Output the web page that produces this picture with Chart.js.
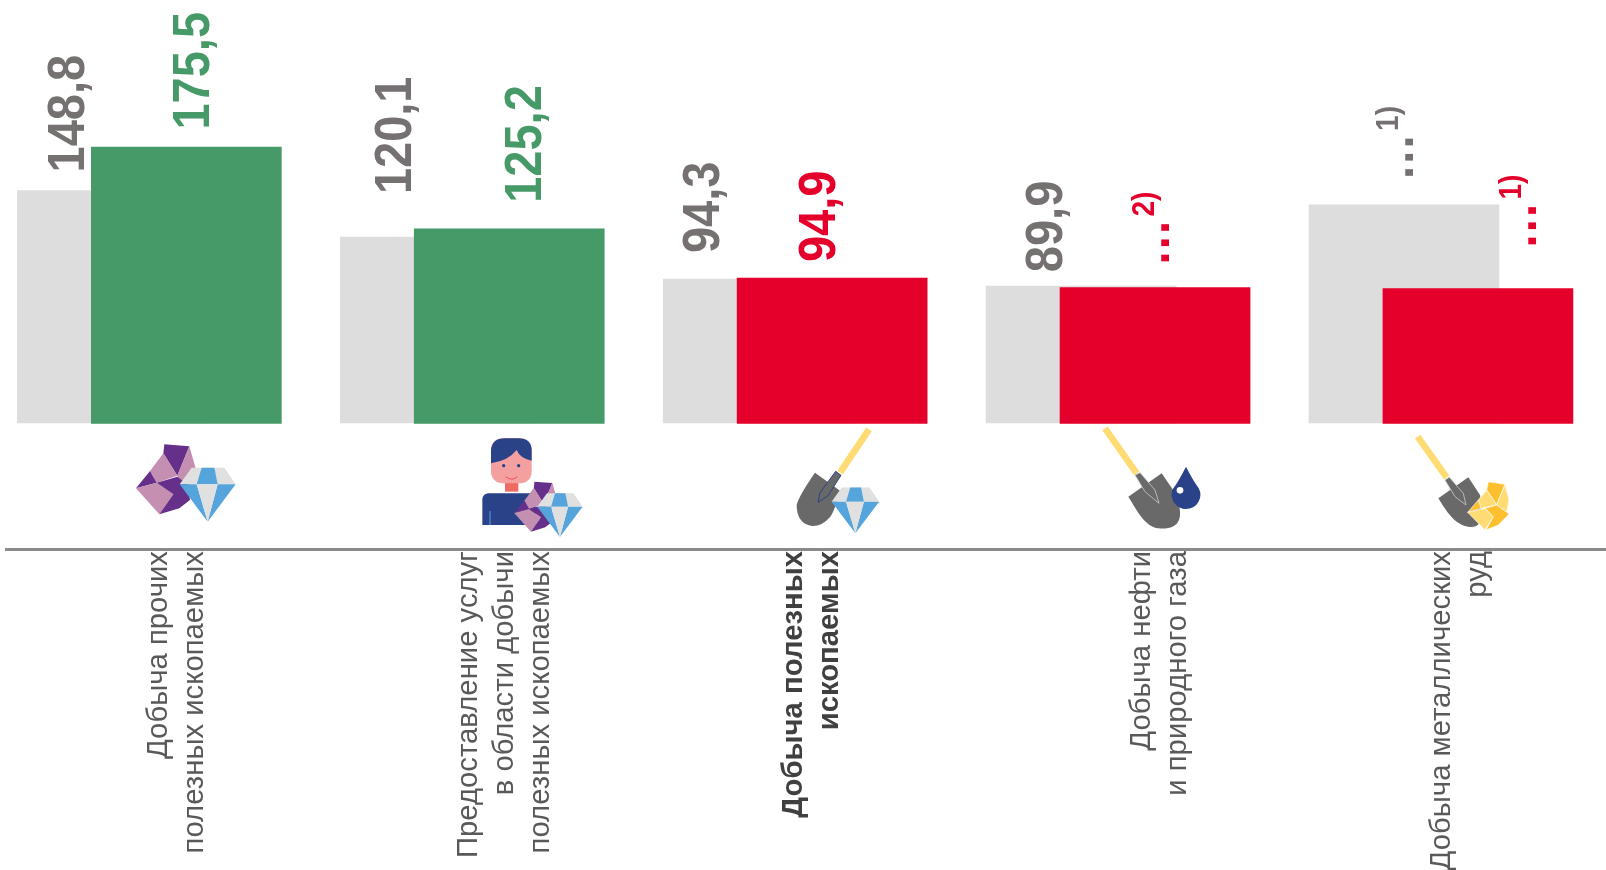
<!DOCTYPE html>
<html lang="ru">
<head>
<meta charset="utf-8">
<title>Добыча полезных ископаемых</title>
<script src="https://cdn.jsdelivr.net/npm/chart.js@4"></script>
<style>
  html, body { margin: 0; padding: 0; background: #fff; overflow: hidden; }
  canvas { display: block; }
</style>
</head>
<body>
<canvas id="chart" width="1606" height="870"></canvas>
<script>
// Data
const categories = [
  ['Добыча прочих', 'полезных ископаемых'],
  ['Предоставление услуг', 'в области добычи', 'полезных ископаемых'],
  ['Добыча полезных', 'ископаемых'],
  ['Добыча нефти', 'и природного газа'],
  ['Добыча металлических', 'руд'],
];
const prevValues = [148.8, 120.1, 94.3, 89.9, 139.9];
const currValues = [175.5, 125.2, 94.9, 89.1, 88.5];
const prevLabels = ['148,8', '120,1', '94,3', '89,9', '...'];
const currLabels = ['175,5', '125,2', '94,9', '...', '...'];
const prevNotes = ['', '', '', '', '1)'];
const currNotes = ['', '', '', '2)', '1)'];

// Colors
const GREY_BAR = '#dddddd';
const GREEN = '#469a67';
const RED = '#e4002b';
const GREY_TEXT = '#767171';
const currColors = [GREEN, GREEN, RED, RED, RED];

// Scale setup
const X_MIN = -0.3295;
const X_MAX = 4.6256;
const Y_MIN = -71.8;
const Y_MAX = 266;
const BAR_BASE = 5.8;
const CURR_SHIFT = 0.229;
const TICK_AT = [0.143, 1.105, 2.111, 3.189, 4.116];

// [dx from bar centre, gap above bar top]
const PREV_NUDGE = [[-43, 18], [-39, 43], [-53, 26], [-33, 14], [-5, 26]];
const CURR_NUDGE = [[8, 17.5], [18, 26], [-11, 16], [0, 23], [44, 41]];

function drawValueLabel(ctx, el, text, note, color, nudge) {
  ctx.save();
  ctx.translate(el.x + nudge[0], el.y - nudge[1]);
  ctx.rotate(-Math.PI / 2);
  ctx.scale(1, 1.1);
  ctx.fillStyle = color;
  ctx.textBaseline = 'middle';
  ctx.textAlign = 'left';
  ctx.font = 'bold 47px "Liberation Sans"';
  if (text === '...') ctx.letterSpacing = '2.2px';
  ctx.fillText(text, 0, 0);
  ctx.letterSpacing = '0px';
  if (note) {
    ctx.font = 'bold 28px "Liberation Sans"';
    ctx.fillText(note, 48, -9);
  }
  ctx.restore();
}

const valueLabels = {
  id: 'valueLabels',
  afterDatasetsDraw(chart) {
    const ctx = chart.ctx;
    chart.getDatasetMeta(0).data.forEach((el, i) => {
      drawValueLabel(ctx, el, currLabels[i], currNotes[i], currColors[i], CURR_NUDGE[i]);
    });
    chart.getDatasetMeta(1).data.forEach((el, i) => {
      drawValueLabel(ctx, el, prevLabels[i], prevNotes[i], GREY_TEXT, PREV_NUDGE[i]);
    });
  },
};

// Icons, drawn in the 3x grid they were measured on
function poly(ctx, pts, fill) {
  ctx.beginPath();
  for (let i = 0; i < pts.length; i += 2) {
    if (i === 0) ctx.moveTo(pts[i], pts[i + 1]);
    else ctx.lineTo(pts[i], pts[i + 1]);
  }
  ctx.closePath();
  ctx.fillStyle = fill;
  ctx.fill();
}

function place(ctx, x, y, scale, draw) {
  ctx.save();
  ctx.translate(x, y);
  ctx.scale(scale / 3, scale / 3);
  draw();
  ctx.restore();
}

function drawRock(ctx) {
  const dark = '#66308a';
  const light = '#c48fb0';
  poly(ctx, [118, 28, 193, 34, 157, 122, 115, 55], dark);
  poly(ctx, [193, 34, 212, 100, 190, 150, 165, 140, 157, 122], light);
  poly(ctx, [115, 55, 157, 122, 95, 143, 75, 108], light);
  poly(ctx, [75, 108, 95, 143, 33, 160], dark);
  poly(ctx, [33, 160, 95, 143, 145, 178, 103, 238], light);
  poly(ctx, [95, 143, 157, 125, 190, 150, 195, 195, 163, 220, 103, 238, 145, 178], dark);
}

function drawDiamond(ctx) {
  const blue = '#55a4dc';
  const grey = '#e0e0e0';
  poly(ctx, [200, 98, 298, 98, 332, 148, 164, 148], grey);
  poly(ctx, [230, 98, 268, 98, 278, 148, 215, 148], blue);
  poly(ctx, [164, 148, 215, 148, 248, 260], blue);
  poly(ctx, [278, 148, 332, 148, 248, 260], blue);
  poly(ctx, [215, 148, 278, 148, 248, 260], grey);
}

function drawPerson(ctx) {
  const navy = '#2a4288';
  ctx.beginPath();
  ctx.roundRect(22, 190, 160, 95, [18, 4, 0, 0]);
  ctx.fillStyle = navy;
  ctx.fill();
  poly(ctx, [90, 155, 130, 155, 130, 185, 90, 185], '#ee6a62');
  ctx.beginPath();
  ctx.roundRect(48, 25, 122, 135, 34);
  ctx.fillStyle = '#f5a0a0';
  ctx.fill();
  ctx.beginPath();
  ctx.moveTo(48, 100);
  ctx.lineTo(48, 62);
  ctx.quadraticCurveTo(50, 25, 90, 25);
  ctx.lineTo(130, 25);
  ctx.quadraticCurveTo(170, 25, 170, 62);
  ctx.lineTo(170, 92);
  ctx.quadraticCurveTo(135, 85, 125, 60);
  ctx.quadraticCurveTo(100, 92, 48, 100);
  ctx.fillStyle = navy;
  ctx.fill();
  ctx.beginPath();
  ctx.arc(86, 107, 5, 0, Math.PI * 2);
  ctx.arc(131, 107, 5, 0, Math.PI * 2);
  ctx.fill();
  ctx.beginPath();
  ctx.moveTo(92, 140);
  ctx.quadraticCurveTo(110, 155, 127, 140);
  ctx.strokeStyle = '#ee4a5a';
  ctx.lineWidth = 3;
  ctx.stroke();
  ctx.beginPath();
  ctx.moveTo(45, 243);
  ctx.lineTo(45, 285);
  ctx.strokeStyle = '#55a4dc';
  ctx.stroke();
}

function drawShovelOne(ctx) {
  ctx.beginPath();
  ctx.moveTo(90, 158);
  ctx.lineTo(165, 212);
  ctx.quadraticCurveTo(150, 270, 136, 290);
  ctx.quadraticCurveTo(110, 320, 80, 318);
  ctx.quadraticCurveTo(35, 310, 35, 255);
  ctx.quadraticCurveTo(40, 230, 90, 158);
  ctx.fillStyle = '#696969';
  ctx.fill();
  ctx.beginPath();
  ctx.moveTo(252, 28);
  ctx.lineTo(165, 158);
  ctx.strokeStyle = '#ffdc73';
  ctx.lineWidth = 20;
  ctx.stroke();
  poly(ctx, [152, 154, 168, 166, 128, 228, 99, 247, 105, 218], '#696969');
  ctx.strokeStyle = '#2a4288';
  ctx.lineWidth = 3;
  ctx.stroke();
}

function drawShovelRight(ctx, blade, shaft, handle, edge) {
  ctx.beginPath();
  ctx.moveTo(blade[0], blade[1]);
  ctx.lineTo(blade[2], blade[3]);
  ctx.lineTo(blade[4], blade[5]);
  ctx.bezierCurveTo(blade[6], blade[7], blade[8], blade[9], blade[10], blade[11]);
  ctx.bezierCurveTo(blade[12], blade[13], blade[14], blade[15], blade[0], blade[1]);
  ctx.fillStyle = '#696969';
  ctx.fill();
  ctx.beginPath();
  ctx.moveTo(handle[0], handle[1]);
  ctx.lineTo(handle[2], handle[3]);
  ctx.strokeStyle = '#ffdc73';
  ctx.lineWidth = 20;
  ctx.stroke();
  poly(ctx, shaft, '#696969');
  ctx.strokeStyle = edge;
  ctx.lineWidth = 2.5;
  ctx.stroke();
}

function drawDrop(ctx) {
  ctx.beginPath();
  ctx.moveTo(273, 140);
  ctx.quadraticCurveTo(250, 185, 235, 205);
  ctx.arc(273, 224, 43, Math.PI * 1.15, Math.PI * 1.85, true);
  ctx.quadraticCurveTo(296, 185, 273, 140);
  ctx.fillStyle = '#2a4288';
  ctx.fill();
  ctx.beginPath();
  ctx.arc(255, 211, 10, 0, Math.PI * 2);
  ctx.fillStyle = '#fff';
  ctx.fill();
}

function drawNugget(ctx) {
  const dark = '#fdbf2d';
  const light = '#ffdc73';
  const facets = [
    [[250, 170, 300, 178, 275, 240, 245, 195], dark],
    [[220, 225, 245, 195, 275, 240, 228, 250], light],
    [[300, 178, 312, 225, 305, 262, 275, 240], light],
    [[188, 262, 220, 225, 228, 250], dark],
    [[188, 262, 240, 250, 265, 275, 240, 315], light],
    [[240, 250, 275, 240, 310, 265, 310, 270, 280, 300, 243, 315, 265, 275], dark],
  ];
  facets.forEach(([pts, fill]) => {
    poly(ctx, pts, fill);
    ctx.strokeStyle = '#fff';
    ctx.lineWidth = 2;
    ctx.stroke();
  });
}

const icons = {
  id: 'icons',
  afterDraw(chart) {
    const ctx = chart.ctx;
    place(ctx, 125, 435, 1, () => { drawRock(ctx); drawDiamond(ctx); });

    place(ctx, 475, 430, 1, () => drawPerson(ctx));
    place(ctx, 506.4, 475, 0.714, () => drawRock(ctx));
    place(ctx, 493, 466.8, 0.81, () => drawDiamond(ctx));

    place(ctx, 785, 420, 1, () => drawShovelOne(ctx));
    place(ctx, 855.3 - 70.2, 487.3 - 27.6, 0.85, () => drawDiamond(ctx));

    place(ctx, 1095, 420, 1, () => {
      drawShovelRight(ctx,
        [100, 230, 200, 160, 238, 215, 275, 300, 250, 330, 190, 325, 150, 320, 125, 270],
        [120, 165, 135, 158, 180, 210, 192, 250, 150, 215],
        [30, 25, 125, 160], '#c8c8c8');
      drawDrop(ctx);
    });

    place(ctx, 1405, 425, 1, () => {
      drawShovelRight(ctx,
        [100, 220, 190, 157, 225, 210, 240, 290, 225, 310, 190, 305, 150, 300, 125, 260],
        [120, 165, 133, 157, 175, 205, 183, 240, 150, 215],
        [38, 35, 125, 158], '#c8c8c8');
      drawNugget(ctx);
    });
  },
};

const chart = new Chart(document.getElementById('chart'), {
  type: 'bar',
  data: {
    datasets: [
      {
        label: 'Текущий период',
        data: currValues.map((y, i) => ({ x: i + CURR_SHIFT, y })),
        backgroundColor: currColors,
        base: BAR_BASE - 0.4,
        barThickness: 190,
        grouped: false,
      },
      {
        label: 'Предыдущий период',
        data: prevValues.map((y, i) => ({ x: i, y })),
        backgroundColor: GREY_BAR,
        base: BAR_BASE,
        barThickness: 190,
        grouped: false,
      },
    ],
  },
  options: {
    responsive: false,
    animation: false,
    layout: { padding: { left: 6, right: 0, top: 0, bottom: 0 } },
    plugins: { legend: { display: false }, tooltip: { enabled: false } },
    scales: {
      x: {
        type: 'linear',
        offset: false,
        min: X_MIN,
        max: X_MAX,
        grid: { display: false, drawTicks: false },
        border: { color: '#8a8a8a', width: 3 },
        afterBuildTicks(scale) {
          scale.ticks = TICK_AT.map((value) => ({ value }));
        },
        afterFit(scale) {
          scale.height = 321;
        },
        ticks: {
          autoSkip: false,
          minRotation: 90,
          maxRotation: 90,
          padding: 2,
          color: (ctx) => (ctx.index === 2 ? '#404040' : '#595959'),
          font: (ctx) => ({
            family: '"Liberation Sans"',
            size: 29.3,
            weight: ctx.index === 2 ? 'bold' : 'normal',
            lineHeight: 36 / 29.3,
          }),
          callback: (value, index) => categories[index],
        },
      },
      y: {
        display: false,
        min: Y_MIN,
        max: Y_MAX,
      },
    },
  },
  plugins: [valueLabels, icons],
});
</script>
</body>
</html>
